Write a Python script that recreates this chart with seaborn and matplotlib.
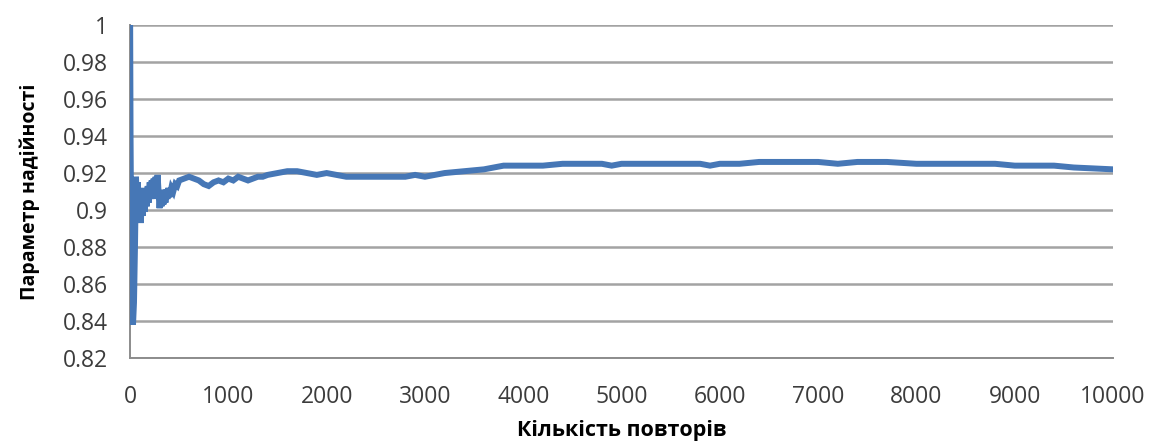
import matplotlib
matplotlib.use("Agg")
import matplotlib.pyplot as plt
from matplotlib.ticker import FuncFormatter
import seaborn as sns
import pandas as pd

# Running estimate of the reliability parameter vs. number of repetitions
repetitions = [
    1, 5, 10, 20, 30, 40, 50, 60, 70, 80, 90, 100, 110, 120, 130, 140, 150,
    160, 170, 180, 190, 200, 210, 220, 230, 240, 250, 260, 270, 280, 290,
    300, 310, 320, 330, 340, 350, 360, 370, 380, 390, 400, 420, 440, 460,
    480, 500, 550, 600, 650, 700, 750, 800, 850, 900, 950, 1000, 1050,
    1100, 1150, 1200, 1250, 1300, 1350, 1400, 1500, 1600, 1700, 1800,
    1900, 2000, 2100, 2200, 2400, 2600, 2800, 2900, 3000, 3100, 3200,
    3400, 3600, 3700, 3800, 4000, 4200, 4400, 4600, 4800, 4900, 5000,
    5400, 5800, 5900, 6000, 6200, 6400, 6800, 7000, 7200, 7400, 7700,
    8000, 8400, 8800, 9000, 9400, 9600, 10000,
]
reliability = [
    1.0, 0.94, 0.90, 0.86, 0.838, 0.85, 0.88, 0.918, 0.905, 0.915, 0.895,
    0.912, 0.893, 0.908, 0.897, 0.910, 0.899, 0.912, 0.902, 0.913, 0.904,
    0.915, 0.906, 0.916, 0.908, 0.917, 0.906, 0.918, 0.908, 0.919, 0.910,
    0.901, 0.909, 0.902, 0.910, 0.903, 0.911, 0.904, 0.911, 0.906, 0.912,
    0.907, 0.912, 0.910, 0.914, 0.913, 0.916, 0.917, 0.918, 0.917, 0.916,
    0.914, 0.913, 0.915, 0.916, 0.915, 0.917, 0.916, 0.918, 0.917, 0.916,
    0.917, 0.918, 0.918, 0.919, 0.920, 0.921, 0.921, 0.920, 0.919, 0.920,
    0.919, 0.918, 0.918, 0.918, 0.918, 0.919, 0.918, 0.919, 0.920, 0.921,
    0.922, 0.923, 0.924, 0.924, 0.924, 0.925, 0.925, 0.925, 0.924, 0.925,
    0.925, 0.925, 0.924, 0.925, 0.925, 0.926, 0.926, 0.926, 0.925, 0.926,
    0.926, 0.925, 0.925, 0.925, 0.924, 0.924, 0.923, 0.922,
]
y_ticks = [0.82, 0.84, 0.86, 0.88, 0.90, 0.92, 0.94, 0.96, 0.98, 1.0]
x_ticks = [0, 1000, 2000, 3000, 4000, 5000, 6000, 7000, 8000, 9000, 10000]

df = pd.DataFrame({"n": repetitions, "p": reliability})

sns.set_theme(style="white")
plt.rcParams["font.family"] = ["Open Sans", "DejaVu Sans"]

fig = plt.figure(figsize=(11.57, 4.46), dpi=100)
ax = fig.add_axes([0.1124, 0.197, 0.8496, 0.747])

sns.lineplot(data=df, x="n", y="p", ax=ax, color="#4677b6", linewidth=4.3,
             solid_joinstyle="miter", zorder=3)

ax.set_xlim(0, 10000)
ax.set_ylim(0.82, 1.0)
ax.set_yticks(y_ticks)
ax.set_xticks(x_ticks)
ax.yaxis.set_major_formatter(FuncFormatter(lambda v, _: f"{v:g}"))
ax.grid(axis="y", color="#a3a3a3", linewidth=1.8, zorder=0)
ax.grid(axis="x", visible=False)

for side in ("top", "right"):
    ax.spines[side].set_visible(False)
for side in ("left", "bottom"):
    ax.spines[side].set_color("#8c8c8c")
    ax.spines[side].set_linewidth(1.4)

ax.tick_params(axis="both", which="major", direction="out", length=7,
               width=1.3, color="#8c8c8c", labelsize=16.5,
               labelcolor="#3c3c3c")
ax.tick_params(axis="x", pad=12)
ax.tick_params(axis="y", pad=9)

ax.set_xlabel("Кількість повторів", fontsize=15.5, fontweight="bold",
              color="black", labelpad=8)
ax.set_ylabel("Параметр надійності", fontsize=14, fontweight="bold",
              color="black", labelpad=16)

fig.savefig("out.png", dpi=100, facecolor="white")
